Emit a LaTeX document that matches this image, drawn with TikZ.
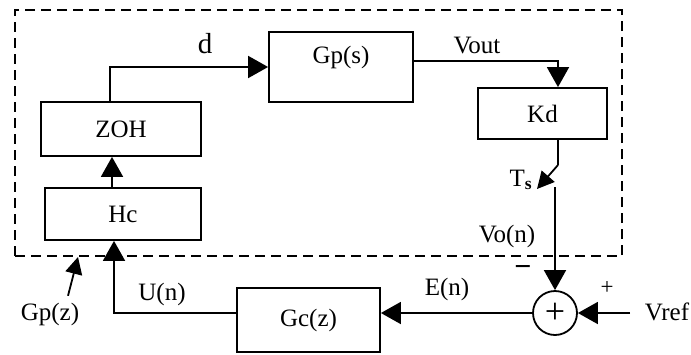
\documentclass[tikz,border=0pt]{standalone}
\usepackage{fontspec}
\setmainfont{Liberation Serif}
\usetikzlibrary{arrows.meta, shapes, positioning}

\begin{document}
\begin{tikzpicture}[x=1pt, y=-1pt, line width=1.8pt,
    >={Triangle[length=20pt, width=22pt]},
    every node/.style={font=\fontsize{25}{29}\selectfont},
    block/.style={draw, rectangle, inner sep=0pt},
    tag/.style={inner sep=0pt},
    small/.style={-{Triangle[length=17pt, width=17pt]}}]
            \useasboundingbox (0,0) rectangle (691,354);

            \node[block, dashed, dash pattern=on 10pt off 6pt, minimum width=607, minimum height=246] (plant) at (318.5,133) {};

            \node[block, minimum width=160, minimum height=54] (zoh) at (121,129) {ZOH};
            \node[block, minimum width=156, minimum height=52] (hc) at (123,214) {Hc};
            \node[block, minimum width=144, minimum height=70, text depth=24pt] (gps) at (341,67) {Gp(s)};
            \node[block, minimum width=129, minimum height=51] (kd) at (542.5,113.5) {Kd};
            \node[block, minimum width=143, minimum height=64] (gcz) at (308.5,320) {Gc(z)};
            \node[draw, circle, minimum size=44, inner sep=0pt, font=\fontsize{36}{36}\selectfont] (sum) at (555,313) {+};

            \coordinate (ts1) at (558,165);
            \coordinate (ts2) at (555,187);
            \coordinate (tstip) at (537,189);
            \coordinate (vin) at (630,313);
            \coordinate (gptip) at (78,257);

            \node[tag, font=\fontsize{29}{32}\selectfont] (d) at (205,44) {d};
            \node[tag] (vout) at (477,46) {Vout};
            \node[tag] (ts) at (521,180) {T\textsubscript{\textbf{s}}};
            \node[tag] (von) at (507,236) {Vo(n)};
            \node[tag, font=\fontsize{30}{30}\selectfont\bfseries] (minus) at (523,271) {−};
            \node[tag, font=\fontsize{23}{24}\selectfont] (plus) at (607,288) {+};
            \node[tag] (vref) at (667,312) {Vref};
            \node[tag] (en) at (447,289) {E(n)};
            \node[tag] (un) at (162,294) {U(n)};
            \node[tag] (gpz) at (50,314) {Gp(z)};

            \draw[->] ([xshift=-11pt]hc.north) -- ([xshift=-11pt]hc.north |- zoh.south);
            \draw[->] ([xshift=-11pt]zoh.north) |- (gps.west);
            \draw[->] ([yshift=6pt]gps.east) -| (kd.north -| ts1);
            \draw (kd.south -| ts1) -- (ts1);
            \draw[small] (ts1) -- (tstip);
            \draw[->] (ts2) -- (sum.north);
            \draw[->] (vin) -- (sum.east);
            \draw[->] (sum.west) -- (sum.west -| gcz.east);
            \draw[->] (gcz.west |- sum.west) -| ([xshift=-9pt]hc.south);
            \draw[small] ([xshift=18pt, yshift=6pt]gpz.north) -- (gptip);
        \end{tikzpicture}
\end{document}
